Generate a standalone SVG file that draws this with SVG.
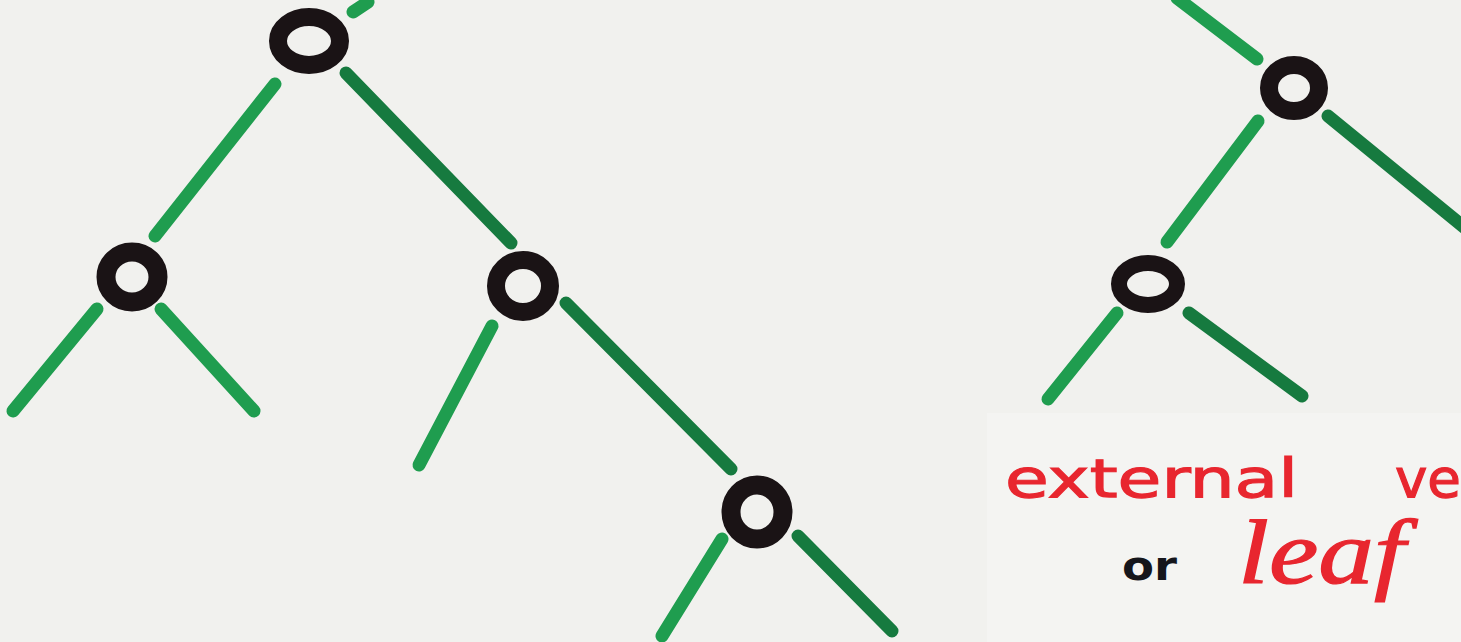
<svg xmlns="http://www.w3.org/2000/svg" width="1461" height="642" viewBox="0 0 1461 642">
  <style>
    .edge { stroke: #1f9d4f; stroke-width: 13; stroke-linecap: round; fill: none; }
    .edge.dark { stroke: #167a3f; }
    .ring { fill: none; stroke: #1a1315; }
    .red { fill: #e8262f; stroke: #e8262f; stroke-width: 1.2; font-family: "DejaVu Sans", sans-serif; }
    .leaf { fill: #e8262f; stroke: #e8262f; stroke-width: 1.2; font-family: "Liberation Serif", serif; font-style: italic; }
    .or { fill: #15161c; font-family: "DejaVu Sans", sans-serif; font-weight: bold; }
  </style>
  <rect x="0" y="0" width="1461" height="642" fill="#f1f1ee"/>
  <rect x="987" y="413" width="474" height="229" fill="#f4f4f2"/>

  <g id="connectors">
    <line class="edge" x1="353" y1="12" x2="368" y2="2"/>
    <line class="edge" x1="275" y1="84" x2="155" y2="236"/>
    <line class="edge dark" x1="346" y1="73" x2="511" y2="243"/>
    <line class="edge" x1="97" y1="309" x2="13" y2="411"/>
    <line class="edge" x1="161" y1="309" x2="254" y2="411"/>
    <line class="edge" x1="492" y1="326" x2="419" y2="465"/>
    <line class="edge dark" x1="566" y1="303" x2="731" y2="469"/>
    <line class="edge" x1="722" y1="539" x2="662" y2="636"/>
    <line class="edge dark" x1="798" y1="536" x2="892" y2="631"/>
    <line class="edge" x1="1177" y1="-2" x2="1257" y2="59"/>
    <line class="edge" x1="1258" y1="121" x2="1167" y2="242"/>
    <line class="edge dark" x1="1328" y1="116" x2="1465" y2="228"/>
    <line class="edge" x1="1117" y1="313" x2="1048" y2="399"/>
    <line class="edge dark" x1="1189" y1="313" x2="1302" y2="396"/>
  </g>

  <g id="node-a"><ellipse class="ring" cx="309" cy="41" rx="31" ry="24" stroke-width="18"/></g>
  <g id="node-b"><ellipse class="ring" cx="132" cy="277" rx="26" ry="25" stroke-width="19"/></g>
  <g id="node-c"><ellipse class="ring" cx="523" cy="286" rx="27" ry="26" stroke-width="18"/></g>
  <g id="node-d"><ellipse class="ring" cx="757" cy="512" rx="26" ry="27" stroke-width="19"/></g>
  <g id="node-e"><ellipse class="ring" cx="1294" cy="88" rx="25" ry="23" stroke-width="18"/></g>
  <g id="node-f"><ellipse class="ring" cx="1148" cy="284" rx="29" ry="21" stroke-width="16"/></g>

  <g id="label">
    <text class="red" x="1005" y="497" font-size="54" textLength="293" lengthAdjust="spacingAndGlyphs">external</text>
    <text class="red" x="1395" y="497" font-size="54" textLength="66" lengthAdjust="spacingAndGlyphs">ve</text>
    <text class="or" x="1122" y="580" font-size="40" textLength="55" lengthAdjust="spacingAndGlyphs">or</text>
    <text class="leaf" x="1238" y="583" font-size="90" textLength="167" lengthAdjust="spacingAndGlyphs">leaf</text>
  </g>
</svg>
